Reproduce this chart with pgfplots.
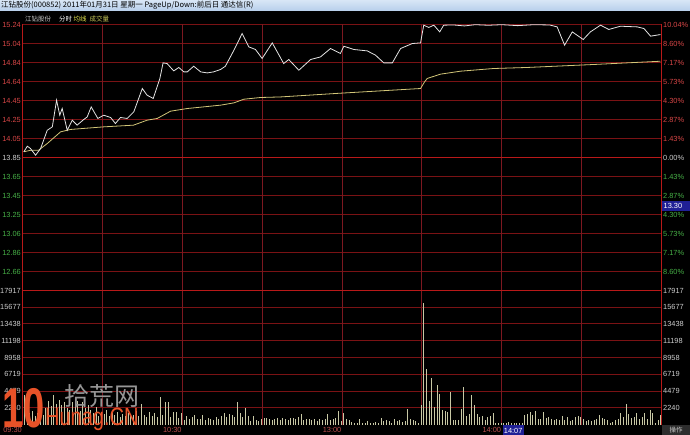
\documentclass[border=0pt]{standalone}
\usepackage{pgfplots}
\usepackage{pgfplotstable}
\pgfplotsset{compat=1.18}
\usepackage{fontspec}
\setmainfont{Liberation Sans}
\newfontfamily\cjk{Noto Sans CJK SC}
\definecolor{gridred}{RGB}{122,18,20}
\definecolor{vgridred}{RGB}{125,24,32}
\definecolor{brightred}{RGB}{185,25,25}
\definecolor{lblred}{RGB}{215,70,70}
\definecolor{lblgreen}{RGB}{70,175,70}
\definecolor{lblgray}{RGB}{205,205,205}
\definecolor{timered}{RGB}{190,80,80}
\definecolor{pricewhite}{RGB}{228,228,228}
\definecolor{avgyellow}{RGB}{210,198,120}
\definecolor{volcol}{RGB}{200,200,165}
\definecolor{cursorblue}{RGB}{32,32,150}
\definecolor{wmorange}{RGB}{232,82,40}
\definecolor{wmgray}{RGB}{150,150,150}
\definecolor{titleblueA}{RGB}{216,230,246}
\definecolor{titleblueB}{RGB}{184,208,236}
\definecolor{infoyellow}{RGB}{235,235,80}
\definecolor{infoolive}{RGB}{200,200,90}
\definecolor{cornergray}{RGB}{45,45,45}

\pgfplotstableread{
i v
1 4000
2 2500
3 1500
4 1800
5 1200
6 1500
7 2000
8 1300
9 2200
10 3200
11 2500
12 3900
13 2800
14 3300
15 2600
16 3000
17 2200
18 2000
19 3000
20 2500
21 3200
22 1800
23 3000
24 2200
25 2600
26 1900
27 1500
28 2300
29 1200
30 1600
31 1400
32 2000
33 1100
34 1500
35 1300
36 1700
37 1000
38 1400
39 1200
40 1500
41 1100
42 1300
43 1800
44 1200
45 2800
46 1250
47 1000
48 1700
49 1150
50 1500
51 1000
52 3700
53 1250
54 3000
55 3000
56 1000
57 1700
58 1700
59 900
60 1500
61 600
62 1150
63 700
64 1000
65 1250
66 700
67 800
68 1250
69 600
70 900
71 800
72 600
73 1000
74 800
75 1150
76 1500
77 1000
78 1350
79 1250
80 1000
81 3040
82 1500
83 1000
84 2150
85 1150
86 450
87 1150
88 600
89 450
90 800
91 900
92 900
93 700
94 600
95 700
96 900
97 600
98 900
99 700
100 600
101 900
102 900
103 700
104 1000
105 1350
106 600
107 700
108 800
109 600
110 700
111 450
112 800
113 600
114 800
115 1350
116 600
117 700
118 900
119 1800
120 450
121 1500
122 700
123 600
124 350
125 250
126 150
127 700
128 250
129 150
130 450
131 250
132 150
133 350
134 150
135 900
136 450
137 600
138 450
139 250
140 800
141 450
142 600
143 350
144 450
145 2050
146 800
147 600
148 450
149 150
150 2600
151 16300
152 7460
153 3200
154 6260
155 2400
156 5230
157 4100
158 1880
159 1790
160 1650
161 4300
162 630
163 630
164 630
165 2100
166 5000
167 1070
168 1340
169 4000
170 2550
171 1340
172 980
173 1070
174 540
175 980
176 1200
177 1500
178 200
179 150
180 250
181 150
182 200
183 300
184 150
185 200
186 250
187 150
188 200
189 1250
190 1340
191 1700
192 1250
193 1800
194 700
195 800
196 1700
197 900
198 1000
199 800
200 600
201 800
202 600
203 1150
204 600
205 1000
206 450
207 600
208 1000
209 1150
210 1000
211 700
212 450
213 600
214 450
215 600
216 700
217 1250
218 900
219 800
220 600
221 250
222 350
223 600
224 700
225 1500
226 1000
227 2700
228 1350
229 900
230 1000
231 1500
232 700
233 1000
234 1500
235 700
236 1900
237 1600
238 250
239 600
240 1250
}\voldata

\begin{document}
\begin{tikzpicture}[x=1pt,y=1pt]
\useasboundingbox (0,0) rectangle (690,-435);
\fill[black] (0,0) rectangle (690,-435);
\shade[top color=titleblueA, bottom color=titleblueB] (0,0) rectangle (690,-10.5);
\node[anchor=west, inner sep=0pt, font=\cjk\fontsize{7.5}{8}\selectfont, text=black] at (1,-5.3) {江钻股份(000852) 2011年01月31日 星期一 PageUp/Down:前后日 通达信(R)};

% ---------- price panel ----------
\begin{axis}[
  at={(22.5pt,-290.5pt)}, anchor=south west,
  scale only axis, width=639pt, height=266pt,
  xmin=0, xmax=240, ymin=12.46, ymax=15.24,
  clip=false,
  axis line style={draw=none},
  major tick length=0pt,
  xtick=\empty,
  extra x ticks={30,60,...,210}, extra x tick labels={},
  extra x tick style={xmajorgrids, major grid style={draw=vgridred, line width=1pt}},
  ymajorgrids,
  major grid style={gridred, line width=1pt},
  ytick={12.6586,12.8571,13.0557,13.2543,13.4529,13.6514,14.0486,14.2471,14.4457,14.6443,14.8429,15.0414,15.24},
  yticklabels={\textcolor{lblgreen}{12.66},\textcolor{lblgreen}{12.86},\textcolor{lblgreen}{13.06},\textcolor{lblgreen}{13.25},\textcolor{lblgreen}{13.45},\textcolor{lblgreen}{13.65},\textcolor{lblred}{14.05},\textcolor{lblred}{14.25},\textcolor{lblred}{14.45},\textcolor{lblred}{14.64},\textcolor{lblred}{14.84},\textcolor{lblred}{15.04},\textcolor{lblred}{15.24}},
  extra y ticks={13.85}, extra y tick labels={\textcolor{lblgray}{13.85}},
  extra y tick style={major grid style={brightred, line width=1pt}},
  yticklabel style={font=\fontsize{7.4}{8}\selectfont, anchor=east, inner sep=0pt, xshift=-1.5pt},
]
\addplot[avgyellow, line width=0.8pt] coordinates {
(0.5,13.91) (3,13.925) (6,13.925) (9.3,13.996) (14.3,14.118) (18.0,14.143) (30.4,14.170) (41.7,14.188) (46.8,14.240) (50.6,14.258) (55.6,14.334) (61.9,14.362) (74.4,14.397) (79.4,14.421) (83.1,14.459) (89.4,14.477) (96.9,14.483) (119.4,14.522) (149.5,14.571) (151.0,14.64) (152.0,14.676) (157.0,14.721) (164.5,14.752) (176.9,14.780) (189.6,14.791) (214.5,14.822) (239.6,14.856)
};
\addplot[pricewhite, line width=0.8pt] coordinates {
(0.5,13.909) (1.8,13.968) (3.0,13.944) (4.9,13.874) (6.8,13.944) (9.3,14.135) (11.2,14.170) (12.8,14.449) (14.0,14.292) (14.9,14.362) (16.8,14.135) (18.7,14.240) (20.5,14.188) (23.0,14.247) (24.3,14.274) (25.8,14.379) (28.3,14.258) (30.5,14.292) (33.1,14.268) (34.9,14.205) (36.8,14.268) (39.3,14.258) (41.8,14.327) (45.0,14.571) (46.8,14.501) (49.1,14.467) (51.6,14.676) (52.8,14.839) (54.3,14.832) (56.8,14.755) (58.7,14.791) (60.6,14.745) (61.9,14.745) (64.3,14.804) (66.9,14.745) (69.4,14.734) (71.8,14.745) (74.4,14.770) (76.2,14.804) (79.4,14.971) (82.5,15.146) (85.0,15.006) (87.5,14.979) (90.0,14.885) (93.8,15.048) (98.1,14.832) (100.0,14.874) (103.8,14.762) (108.2,14.874) (111.9,14.901) (115.7,14.989) (119.4,14.937) (120.7,15.013) (124.4,14.979) (129.5,14.964) (132.6,14.919) (135.7,14.839) (138.9,14.839) (142.0,14.989) (146.4,15.041) (149.5,15.048) (150.7,15.233) (152.6,15.209) (154.5,15.233) (156.7,15.163) (158.2,15.233) (162,15.235) (166,15.225) (170,15.238) (175,15.232) (180,15.238) (186,15.228) (192,15.238) (198,15.235) (200.8,15.215) (203.6,15.024) (206.5,15.163) (210.6,15.083) (213.3,15.163) (217.1,15.233) (220.2,15.188) (224.6,15.222) (230.9,15.215) (233.4,15.198) (235.9,15.118) (239.6,15.135)
};
\end{axis}

% right-side percent labels
\begin{axis}[
  at={(22.5pt,-290.5pt)}, anchor=south west,
  scale only axis, width=639pt, height=266pt,
  xmin=0, xmax=240, ymin=12.46, ymax=15.24,
  axis line style={draw=none}, major tick length=0pt,
  xtick=\empty, yticklabel pos=right,
  ytick={12.6586,12.8571,13.0557,13.2543,13.4529,13.6514,13.85,14.0486,14.2471,14.4457,14.6443,14.8429,15.0414,15.24},
  yticklabels={\textcolor{lblgreen}{8.60\%},\textcolor{lblgreen}{7.17\%},\textcolor{lblgreen}{5.73\%},\textcolor{lblgreen}{4.30\%},\textcolor{lblgreen}{2.87\%},\textcolor{lblgreen}{1.43\%},\textcolor{lblgray}{0.00\%},\textcolor{lblred}{1.43\%},\textcolor{lblred}{2.87\%},\textcolor{lblred}{4.30\%},\textcolor{lblred}{5.73\%},\textcolor{lblred}{7.17\%},\textcolor{lblred}{8.60\%},\textcolor{lblred}{10.04\%}},
  yticklabel style={font=\fontsize{7.4}{8}\selectfont, anchor=west, inner sep=0pt, xshift=1.5pt},
]
\end{axis}

% ---------- volume panel ----------
\begin{axis}[
  at={(22.5pt,-424.5pt)}, anchor=south west,
  scale only axis, width=639pt, height=134pt,
  xmin=0, xmax=240, ymin=0, ymax=17917,
  clip=false,
  axis line style={draw=none}, major tick length=0pt,
  scaled y ticks=false,
  xtick=\empty,
  extra x ticks={0,30,60,...,240}, extra x tick labels={09:30,,10:30,,13:00,,14:00,,},
  extra x tick style={xmajorgrids, major grid style={draw=vgridred, line width=1pt}},
  ymajorgrids,
  major grid style={gridred, line width=1pt},
  ytick={2239.6,4479.3,6718.9,8958.5,11198.1,13437.8,15677.4},
  yticklabels={2240,4479,6719,8958,11198,13438,15677},
  extra y ticks={17917}, extra y tick labels={17917},
  extra y tick style={major grid style={brightred, line width=1pt}},
  yticklabel style={font=\fontsize{7.4}{8}\selectfont, text=lblgray, anchor=east, inner sep=0pt, xshift=-1.5pt},
  xticklabel style={font=\fontsize{7.4}{8}\selectfont, text=timered, anchor=north east, inner sep=0pt, yshift=-2.5pt, xshift=-0.5pt},
]
\addplot[ycomb, volcol, line width=0.9pt] table[x expr=\thisrow{i}-0.3, y=v] {\voldata};
\end{axis}

\begin{axis}[
  at={(22.5pt,-424.5pt)}, anchor=south west,
  scale only axis, width=639pt, height=134pt,
  xmin=0, xmax=240, ymin=0, ymax=17917,
  axis line style={draw=none}, major tick length=0pt,
  scaled y ticks=false,
  xtick=\empty, yticklabel pos=right,
  ytick={2239.6,4479.3,6718.9,8958.5,11198.1,13437.8,15677.4,17917},
  yticklabels={2240,4479,6719,8958,11198,13438,15677,17917},
  yticklabel style={font=\fontsize{7.4}{8}\selectfont, text=lblgray, anchor=west, inner sep=0pt, xshift=1.5pt},
]
\end{axis}

% panel borders
\draw[brightred, line width=1pt] (22.5,-24.5) -- (22.5,-424.5);
\draw[brightred, line width=1pt] (661.5,-24.5) -- (661.5,-424.5);

% info row
\node[anchor=west, inner sep=0pt, font=\cjk\fontsize{6.5}{7}\selectfont, text=lblgray] at (25,-19) {江钻股份};
\node[anchor=west, inner sep=0pt, font=\cjk\fontsize{6.5}{7}\selectfont, text=white] at (59,-19) {分时};
\node[anchor=west, inner sep=0pt, font=\cjk\fontsize{6.5}{7}\selectfont, text=infoyellow] at (73.5,-19) {均线};
\node[anchor=west, inner sep=0pt, font=\cjk\fontsize{6.5}{7}\selectfont, text=infoolive] at (89.5,-19) {成交量};

% cursor boxes
\fill[cursorblue] (662,-200.8) rectangle (690,-211);
\node[anchor=west, inner sep=0pt, font=\fontsize{7.4}{8}\selectfont, text=white] at (663.5,-206) {13.30};
\fill[cursorblue] (503,-425.2) rectangle (523.5,-435);
\node[anchor=center, inner sep=0pt, font=\fontsize{7.4}{8}\selectfont, text=white] at (513.2,-430.5) {14:07};
\fill[cornergray] (662,-425.2) rectangle (690,-435);
\node[anchor=center, inner sep=0pt, font=\cjk\fontsize{6.5}{7}\selectfont, text=lblgray] at (676,-430.3) {操作};

% watermark
\node[anchor=base west, inner sep=0pt, text=wmorange, font=\bfseries\fontsize{56}{56}\selectfont, xscale=0.68] at (2,-427) {10};
\node[anchor=base west, inner sep=0pt, text=wmgray, font=\cjk\fontsize{25}{25}\selectfont] at (64,-405) {拾荒网};
\node[anchor=base west, inner sep=0pt, text=wmorange, font=\fontsize{25}{25}\selectfont, xscale=0.8] at (45,-425) {Hunag.CN};
\end{tikzpicture}
\end{document}
